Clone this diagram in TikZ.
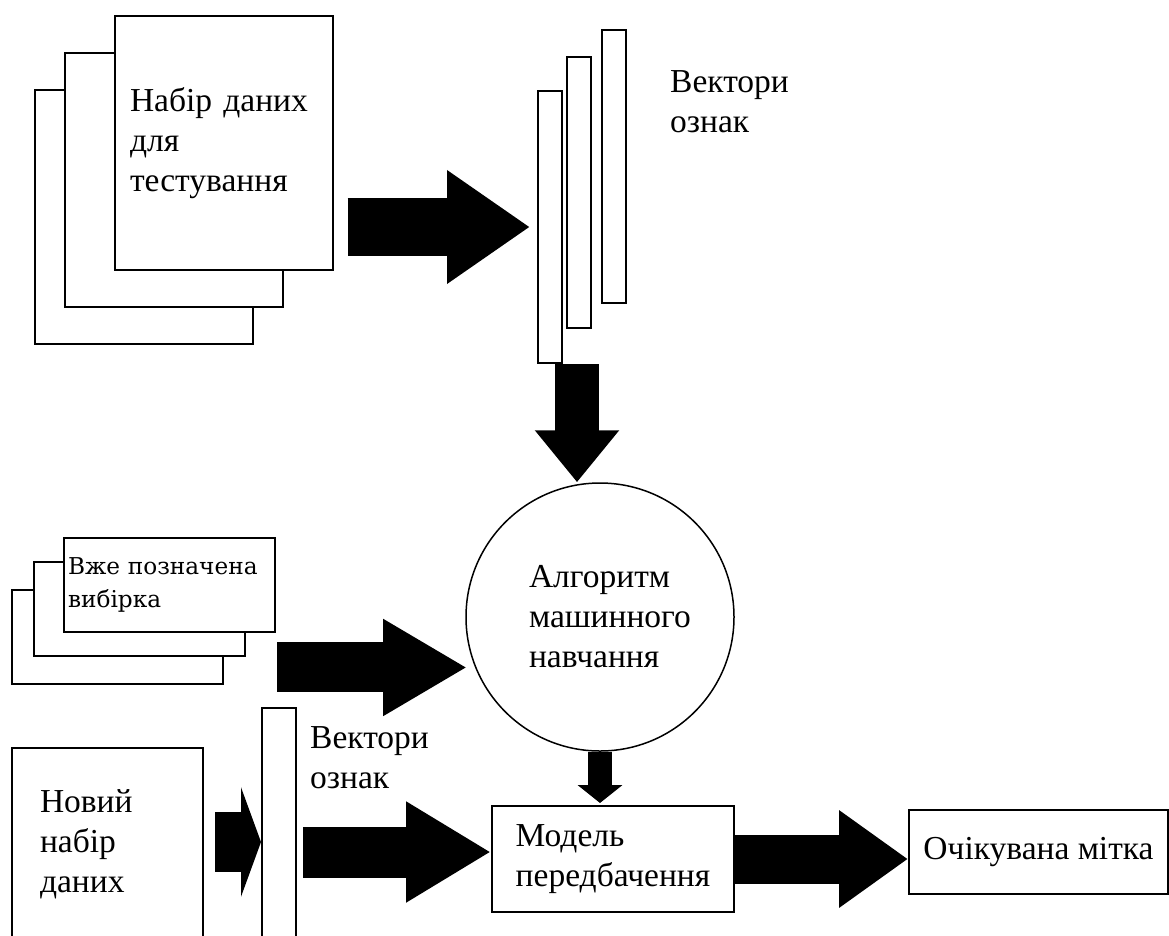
\documentclass[tikz,border=0pt]{standalone}
\usepackage{fontspec}
\setmainfont{Liberation Serif}
\newfontfamily\samplefont{DejaVu Serif}
\usetikzlibrary{arrows.meta}

\begin{document}
\begin{tikzpicture}[
  x=1pt,y=-1pt,
  font=\fontsize{33.5}{40}\selectfont,
  doc/.style={draw,line width=2pt,fill=white,minimum width=218pt,minimum height=254pt},
  labdoc/.style={draw,line width=2pt,fill=white,minimum width=211pt,minimum height=94pt},
  vecbar/.style={draw,line width=2pt,fill=white,minimum width=24pt,inner sep=0pt},
  box/.style={draw,line width=2pt,fill=white,align=left},
  blockarrow/.style n args={3}{line width=#1,-{Triangle[length=#2,width=#3]}}
]
\useasboundingbox (0,0) rectangle (1169,935);

% test set and its feature vectors
\node[doc] (testdoc3) at (143.5,216.5) {};
\node[doc] (testdoc2) at (174,179.5) {};
\node[doc,text width=187pt,inner xsep=10pt,align=left] (testdoc1) at (223.5,143)
  {Набір даних\\для\\тестування};
\node[vecbar,minimum height=272pt] (vec1) at (550,227) {};
\node[vecbar,minimum height=271pt] (vec2) at (579,192.5) {};
\node[vecbar,minimum height=273pt] (vec3) at (614,166.5) {};
\node[align=left,anchor=north west,inner sep=0pt] (vectop) at (670,70) {Вектори\\ознак};

% learning
\node[draw,circle,line width=1.5pt,minimum size=268pt,text width=142pt,align=left]
  (algo) at (600,617) {Алгоритм\\машинного\\навчання};
\node[labdoc] (lab3) at (117,637) {};
\node[labdoc] (lab2) at (139,609) {};
\node[labdoc,text width=203pt,inner xsep=4pt,align=left,
      font=\samplefont\fontsize{23.2}{33}\selectfont] (lab1) at (169.5,585)
  {Вже позначена\\вибірка};

% prediction
\node[box,minimum width=191pt,minimum height=192pt,text width=135pt,inner xsep=10pt]
  (newdata) at (107.5,844) {Новий\\набір\\даних};
\node[vecbar,minimum width=34pt,minimum height=268pt] (vecnew) at (279,842) {};
\node[align=left,anchor=north west,inner sep=0pt] (vecbot) at (310,726) {Вектори\\ознак};
\node[box,minimum width=242pt,minimum height=106pt] (model) at (613,859)
  {Модель\\передбачення};
\node[box,minimum width=259pt,minimum height=84pt] (output) at (1038.5,852)
  {Очікувана мітка};

% block arrows
\draw[blockarrow={58pt}{83pt}{108pt},shorten <=14pt,shorten >=7pt]
  (testdoc1.east |- vec1.west) -- (vec1.west);
\coordinate (drop) at ([xshift=27pt]vec1.south);
\draw[blockarrow={44pt}{52pt}{81pt}] (drop) -- (drop |- algo.north);
\draw[blockarrow={50pt}{84pt}{91pt},shorten <=1pt,shorten >=8pt]
  (lab1.east |- algo.202) -- (algo.202);
\draw[blockarrow={24pt}{18pt}{44pt},shorten >=2pt] (algo.south) -- (algo.south |- model.north);
\draw[blockarrow={60pt}{20pt}{109pt},shorten <=11pt] (newdata.east |- vecnew.west) -- (vecnew.west);
\coordinate (modelin) at ([yshift=7pt]model.west);
\draw[blockarrow={51pt}{85pt}{95pt},shorten <=6pt] (vecnew.east |- modelin) -- (modelin);
\draw[blockarrow={49pt}{69pt}{93pt}] (model.east) -- (model.east -| output.west);
\end{tikzpicture}
\end{document}
